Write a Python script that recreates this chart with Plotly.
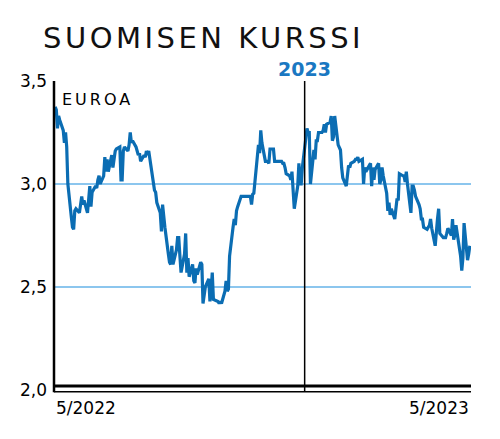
import pandas as pd
import plotly.graph_objects as go

title = "SUOMISEN KURSSI"
start_day = "2022-05-30"

# daily closing price, euros
price = [
    3.375, 3.36, 3.27, 3.33, 3.31, 3.26, 3.20, 3.25, 3.18, 3.00,
    2.84, 2.79, 2.78, 2.87, 2.88, 2.86, 2.90, 2.94, 2.90, 2.92,
    2.86, 2.94, 2.99, 2.89, 2.96, 2.99, 2.98, 3.02, 3.04, 3.00,
    3.04, 3.13, 3.06, 3.12, 3.06, 3.14, 3.08, 3.12, 3.16, 3.17,
    3.18, 3.02, 3.02, 3.16, 3.18, 3.16, 3.19, 3.25, 3.20, 3.21,
    3.18, 3.16, 3.14, 3.15, 3.11, 3.14, 3.13, 3.16, 3.14, 3.16,
    3.04, 2.995, 2.97, 2.96, 2.91,
    2.86, 2.77, 2.90, 2.84, 2.79, 2.66, 2.62, 2.61, 2.70, 2.61,
    2.68, 2.74, 2.74, 2.65, 2.57, 2.66, 2.76, 2.57, 2.64, 2.55,
    2.61, 2.53, 2.52, 2.59, 2.56, 2.62, 2.61, 2.42, 2.45, 2.50,
    2.54, 2.43, 2.48, 2.57, 2.44, 2.43, 2.43, 2.42, 2.43, 2.42,
    2.48, 2.53, 2.48, 2.49, 2.65, 2.79, 2.83, 2.80, 2.87, 2.89,
    2.94, 2.94, 2.94, 2.94, 2.94, 2.94, 2.94, 2.90, 2.95, 2.955,
    3.13, 3.19, 3.15, 3.26, 3.20, 3.11, 3.11, 3.11, 3.10, 3.17,
    3.17, 3.11, 3.11, 3.11, 3.11, 3.11, 3.10, 3.10, 3.08, 3.05,
    3.04, 3.02, 3.06, 2.99, 2.88, 2.99, 3.10, 3.00, 3.00, 3.08,
    3.21, 3.27, 3.25, 3.25, 3.00, 3.165, 3.12, 3.21, 3.21, 3.25,
    3.25, 3.26, 3.29, 3.25, 3.29, 3.30, 3.33, 3.21, 3.23, 3.33,
    3.19, 3.18, 3.165, 3.08, 3.03, 2.99, 3.04, 3.09, 3.08, 3.10,
    3.11, 3.12, 3.12, 3.13, 3.11,
    3.12, 3.00, 3.08, 3.06, 3.07, 3.10, 2.99, 3.08, 3.02, 3.07,
    3.10, 3.00, 3.02, 3.08, 3.04, 2.955, 2.87, 2.91, 2.85, 2.88,
    2.83, 2.87, 2.93, 2.92, 3.05, 3.04, 3.04, 3.01, 3.06, 3.00,
    2.86, 2.99, 2.99, 2.97, 2.94, 2.90, 2.88, 2.83, 2.83, 2.79,
    2.78, 2.79, 2.80, 2.83, 2.785, 2.70, 2.78, 2.83, 2.88, 2.76,
    2.74, 2.74, 2.74, 2.76, 2.785, 2.75, 2.83, 2.73, 2.75, 2.80,
    2.70, 2.65, 2.58, 2.64, 2.81, 2.63, 2.66, 2.70,
]
dates = pd.bdate_range(start_day, periods=len(price))

y_ticks = [2.0, 2.5, 3.0, 3.5]
year_mark = "2023-01-01"
x_labels = ["5/2022", "5/2023"]

font = "DejaVu Sans"
blue = "#0b6db3"
grid = "#8cc6ee"

# the page adds an 8px body margin, so the figure is 8px smaller than the window
fig = go.Figure()
fig.add_trace(go.Scatter(
    x=dates, y=price, mode="lines",
    line=dict(color=blue, width=3.2),
    hoverinfo="skip",
))

x0 = dates[0] - pd.Timedelta(days=1)
x1 = dates[-1] + pd.Timedelta(days=1)

fig.update_layout(
    width=492, height=431,
    margin=dict(l=41, r=29, t=73, b=49),
    paper_bgcolor="white", plot_bgcolor="white",
    showlegend=False,
    separators=", ",
    font=dict(family=font, color="black", size=17),
)
fig.update_xaxes(range=[x0, x1], showgrid=False, showticklabels=False,
                 zeroline=False, showline=False)
fig.update_yaxes(range=[2.0, 3.5], tickvals=y_ticks, tickformat=".1f",
                 showgrid=True, gridcolor=grid, gridwidth=1.5,
                 zeroline=False, showline=False, ticks="",
                 ticklabelstandoff=6, tickfont=dict(size=17))

# axis frame: left rule, double rule at the bottom, 2023 divider
fig.add_shape(type="line", xref="paper", yref="paper", x0=0, x1=0, y0=-0.007, y1=1,
              line=dict(color="black", width=2.5))
fig.add_shape(type="line", xref="paper", yref="paper", x0=0, x1=1, y0=0.013, y1=0.013,
              line=dict(color="black", width=3))
fig.add_shape(type="line", xref="paper", yref="paper", x0=0, x1=1, y0=-0.006, y1=-0.006,
              line=dict(color="black", width=1.5))
fig.add_shape(type="line", xref="x", yref="paper", x0=year_mark, x1=year_mark, y0=-0.006, y1=1,
              line=dict(color="black", width=1.5))
fig.add_shape(type="line", xref="paper", yref="y", x0=0, x1=1, y0=3.0, y1=3.0,
              line=dict(color="#3aa6e4", width=1.5), layer="below")

fig.add_annotation(text='<span style="letter-spacing:3.5px">' + title + "</span>",
                   x=0, xref="paper", y=1, yref="paper", xanchor="left", yanchor="bottom",
                   xshift=-13, yshift=24, showarrow=False,
                   font=dict(family=font, size=29, color="#111"))
fig.add_annotation(text="<b>2023</b>", x=year_mark, xref="x", y=1, yref="paper",
                   yanchor="bottom", yshift=-1, showarrow=False,
                   font=dict(family=font, size=19, color="#1a78c2"))
fig.add_annotation(text='<span style="letter-spacing:3px">EUROA</span>',
                   x=0, xref="paper", y=3.41, yref="y",
                   xanchor="left", xshift=6, showarrow=False,
                   font=dict(family=font, size=16, color="black"))
fig.add_annotation(text=x_labels[0], x=0, xref="paper", y=0, yref="paper",
                   xanchor="left", yanchor="top", yshift=-6, showarrow=False)
fig.add_annotation(text=x_labels[1], x=1, xref="paper", y=0, yref="paper",
                   xanchor="right", yanchor="top", yshift=-6, showarrow=False)

fig.write_html("out.html")
